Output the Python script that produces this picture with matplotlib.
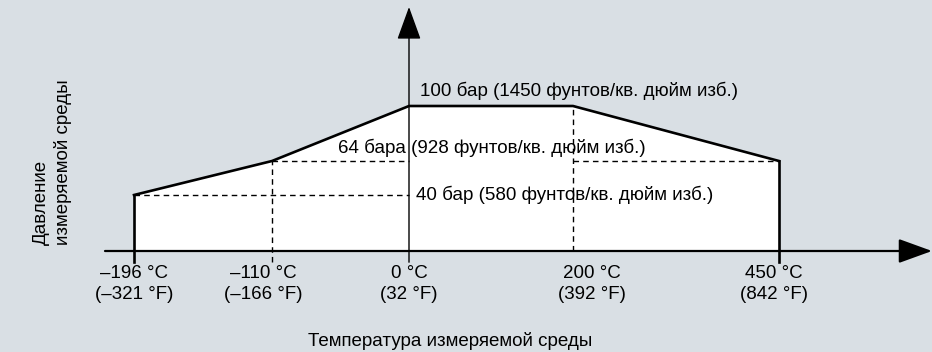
"""Schematic: allowed process pressure vs. process temperature."""

import matplotlib.pyplot as plt
import numpy as np

# reference temperatures and the pressure limit at each of them
temp_c = [-196, -110, 0, 200, 450]
temp_f = [-321, -166, 32, 392, 842]
pressure_bar = [40, 64, 100, 100, 64]

# labelled pressure levels
level_bar = [40, 64, 100]
level_psi = [580, 928, 1450]
level_unit = ["бар", "бара", "бар"]

# the chart is a schematic: axes are not linear, so map values to pixels
W, H = 932, 352
X_PIX = [134, 272, 409, 573, 779]
Y_REF = [0, 40, 64, 100]
Y_PIX = [101, 157, 191, 246]  # measured from the bottom edge
TICK_DOWN = -8  # how far the tick marks run below the axis (bar)

BG = "#d9dfe4"
PX = 0.72  # pixels -> points at dpi 100


def piecewise(src, dst):
    """Piecewise linear map with linear extrapolation at both ends."""
    src = np.asarray(src, float)
    dst = np.asarray(dst, float)
    s0 = (dst[1] - dst[0]) / (src[1] - src[0])
    s1 = (dst[-1] - dst[-2]) / (src[-1] - src[-2])

    def f(v):
        v = np.asarray(v, float)
        out = np.interp(v, src, dst)
        out = np.where(v < src[0], dst[0] + (v - src[0]) * s0, out)
        out = np.where(v > src[-1], dst[-1] + (v - src[-1]) * s1, out)
        return out

    return f


def dash_text(c):
    return str(c).replace("-", "\u2013")


plt.rcParams["font.family"] = ["Liberation Sans", "DejaVu Sans"]
plt.rcParams["font.size"] = 13.5

fig = plt.figure(figsize=(W / 100, H / 100), dpi=100, facecolor=BG)
ax = fig.add_axes([0, 0, 1, 1])
ax.set_facecolor(BG)
ax.axis("off")

fx, fx_inv = piecewise(temp_c, X_PIX), piecewise(X_PIX, temp_c)
fy, fy_inv = piecewise(Y_REF, Y_PIX), piecewise(Y_PIX, Y_REF)
ax.set_xscale("function", functions=(fx, fx_inv))
ax.set_yscale("function", functions=(fy, fy_inv))
ax.set_xlim(float(fx_inv(0)), float(fx_inv(W)))
ax.set_ylim(float(fy_inv(0)), float(fy_inv(H)))

# allowed region
poly_x = [temp_c[0]] + temp_c + [temp_c[-1]]
poly_y = [0] + pressure_bar + [0]
ax.fill(poly_x, poly_y, color="white", lw=0, zorder=1)

thick = dict(color="black", lw=1.9, solid_capstyle="projecting", zorder=4)
ax.plot(temp_c, pressure_bar, **thick)
ax.plot([temp_c[0], temp_c[0]], [TICK_DOWN, pressure_bar[0]], **thick)
ax.plot([temp_c[-1], temp_c[-1]], [TICK_DOWN, pressure_bar[-1]], **thick)

# dashed guide lines
dash = dict(color="black", lw=1.0, linestyle=(0, (4, 3)), zorder=2)
ax.plot([temp_c[0], temp_c[2]], [level_bar[0], level_bar[0]], **dash)
ax.plot([temp_c[1], temp_c[2]], [level_bar[1], level_bar[1]], **dash)
ax.plot([temp_c[3], temp_c[4]], [level_bar[1], level_bar[1]], **dash)
ax.plot([temp_c[1], temp_c[1]], [TICK_DOWN, pressure_bar[1]], **dash)
ax.plot([temp_c[3], temp_c[3]], [0, pressure_bar[3]], **dash)

# axes with arrow heads
head = "-|>,head_length=0.4,head_width=0.145"
ax.annotate("", xy=(1.0, 0), xycoords=("axes fraction", "data"),
            xytext=(105 / W, 0), textcoords=("axes fraction", "data"),
            arrowprops=dict(arrowstyle=head, mutation_scale=52, color="black",
                            lw=1.6, shrinkA=0, shrinkB=0), zorder=5)
ax.annotate("", xy=(0, 1 - 7 / H), xycoords=("data", "axes fraction"),
            xytext=(0, TICK_DOWN), textcoords="data",
            arrowprops=dict(arrowstyle=head, mutation_scale=52, color="black",
                            lw=1.0, shrinkA=0, shrinkB=0), zorder=5)

# pressure labels: (anchor temperature, x offset px, y offset px)
level_pos = [(0, 7, 0), (0, -71, 13), (0, 11, 15)]
for p, psi, unit, (t, dx, dy) in zip(level_bar, level_psi, level_unit, level_pos):
    ax.annotate(f"{p} {unit} ({psi} фунтов/кв. дюйм изб.)", xy=(t, p),
                xytext=(dx * PX, dy * PX), textcoords="offset points",
                ha="left", va="center", zorder=6)

# temperature labels under the axis
label_dx = [0, -9, 0, 19, -5]
for c, f, dx in zip(temp_c, temp_f, label_dx):
    ax.annotate(f"{dash_text(c)} °C\n({dash_text(f)} °F)", xy=(c, 0),
                xytext=(dx * PX, -33 * PX), textcoords="offset points",
                ha="center", va="center", linespacing=1.3, zorder=6)

fig.text(52 / W, 1 - 245 / H, "Давление\nизмеряемой среды", rotation=90,
         ha="center", va="bottom", multialignment="left", linespacing=1.3)
fig.text(450 / W, 1 - 341 / H, "Температура измеряемой среды",
         ha="center", va="center")

fig.savefig("out.png", dpi=100, facecolor=BG)
